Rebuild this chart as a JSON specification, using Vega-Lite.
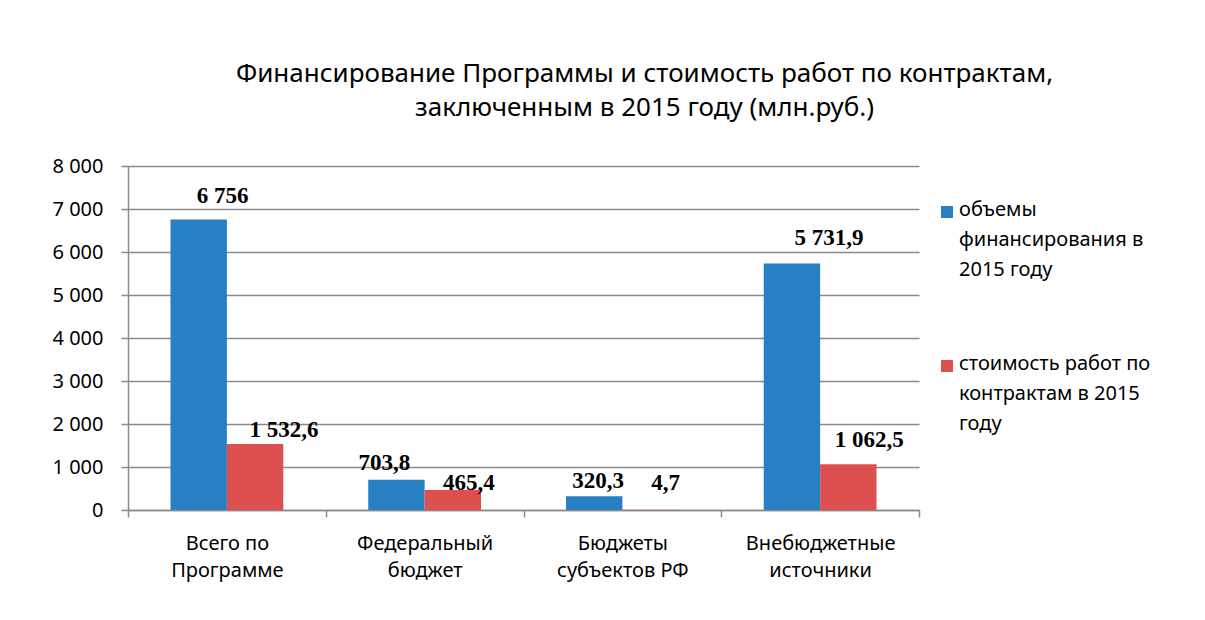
{
  "$schema": "https://vega.github.io/schema/vega-lite/v6.json",
  "width": 791,
  "height": 344,
  "autosize": {"type": "none"},
  "padding": {"left": 128, "top": 166, "right": 286, "bottom": 110},
  "background": "white",
  "title": {
    "text": ["Финансирование Программы и стоимость работ по контрактам,", "заключенным в 2015 году (млн.руб.)"],
    "font": "Noto Sans",
    "fontSize": 26,
    "fontWeight": "normal",
    "color": "#000000",
    "anchor": "middle",
    "frame": "group",
    "dx": 121,
    "lineHeight": 34,
    "offset": 35
  },
  "data": {
    "values": [
      {"cat": "Всего по Программе", "series": "объемы финансирования в 2015 году", "value": 6756, "label": "6 756"},
      {"cat": "Всего по Программе", "series": "стоимость работ по контрактам в 2015 году", "value": 1532.6, "label": "1 532,6"},
      {"cat": "Федеральный бюджет", "series": "объемы финансирования в 2015 году", "value": 703.8, "label": "703,8"},
      {"cat": "Федеральный бюджет", "series": "стоимость работ по контрактам в 2015 году", "value": 465.4, "label": "465,4"},
      {"cat": "Бюджеты субъектов РФ", "series": "объемы финансирования в 2015 году", "value": 320.3, "label": "320,3"},
      {"cat": "Бюджеты субъектов РФ", "series": "стоимость работ по контрактам в 2015 году", "value": 4.7, "label": "4,7"},
      {"cat": "Внебюджетные источники", "series": "объемы финансирования в 2015 году", "value": 5731.9, "label": "5 731,9"},
      {"cat": "Внебюджетные источники", "series": "стоимость работ по контрактам в 2015 году", "value": 1062.5, "label": "1 062,5"}
    ]
  },
  "encoding": {
    "x": {
      "field": "cat",
      "type": "nominal",
      "sort": null,
      "title": null,
      "scale": {"paddingInner": 0, "paddingOuter": 0},
      "axis": {
        "labelAngle": 0,
        "labelFont": "Noto Sans",
        "labelFontSize": 20,
        "labelColor": "#000000",
        "labelLineHeight": 27,
        "labelPadding": 16,
        "labelLimit": 0,
        "tickBand": "extent",
        "tickSize": 7,
        "tickColor": "#8a8a8a",
        "tickWidth": 1.5,
        "domainColor": "#8a8a8a",
        "domainWidth": 1.5,
        "grid": false,
        "labelExpr": "datum.value == 'Всего по Программе' ? ['Всего по', 'Программе'] : datum.value == 'Федеральный бюджет' ? ['Федеральный', 'бюджет'] : datum.value == 'Бюджеты субъектов РФ' ? ['Бюджеты', 'субъектов РФ'] : datum.value == 'Внебюджетные источники' ? ['Внебюджетные', 'источники'] : ''"
      }
    },
    "xOffset": {
      "field": "series",
      "type": "nominal",
      "sort": ["объемы финансирования в 2015 году", "стоимость работ по контрактам в 2015 году"],
      "scale": {"paddingInner": 0, "paddingOuter": 0.753}
    },
    "y": {
      "field": "value",
      "type": "quantitative",
      "title": null,
      "scale": {"domain": [0, 8000], "nice": false},
      "axis": {
        "values": [0, 1000, 2000, 3000, 4000, 5000, 6000, 7000, 8000],
        "labelExpr": "replace(format(datum.value, ','), ',', ' ')",
        "labelFont": "Noto Sans",
        "labelFontSize": 20,
        "labelColor": "#000000",
        "labelPadding": 18,
        "tickSize": 7,
        "tickColor": "#8a8a8a",
        "tickWidth": 1.5,
        "domainColor": "#8a8a8a",
        "domainWidth": 1.5,
        "grid": true,
        "gridColor": "#8a8a8a",
        "gridWidth": 1.5
      }
    }
  },
  "layer": [
    {
      "mark": {"type": "bar"},
      "encoding": {
        "color": {
          "field": "series",
          "type": "nominal",
          "scale": {
            "domain": ["объемы финансирования в 2015 году", "стоимость работ по контрактам в 2015 году"],
            "range": ["#2780C3", "#DE4F4F"]
          },
          "legend": {
            "title": null,
            "orient": "none",
            "legendX": 809,
            "legendY": 36,
            "symbolType": "square",
            "symbolSize": 144,
            "symbolStrokeWidth": 0,
            "symbolOpacity": 1,
            "labelFont": "Noto Sans",
            "labelFontSize": 20,
            "labelColor": "#000000",
            "labelLimit": 0,
            "labelOffset": 2,
            "labelBaseline": "top",
            "rowPadding": 74,
            "labelExpr": "datum.label == 'объемы финансирования в 2015 году' ? ['объемы', 'финансирования в', '2015 году'] : ['стоимость работ по', 'контрактам в 2015', 'году']",
            "encode": {
              "labels": {"update": {"lineHeight": {"value": 30}, "dy": {"value": -12}}}
            }
          }
        }
      }
    },
    {
      "transform": [{"filter": "datum.label == '6 756'"}],
      "mark": {"type": "text", "font": "Liberation Serif", "fontWeight": "bold", "fontSize": 23, "baseline": "alphabetic", "dx": 24, "dy": -16},
      "encoding": {"text": {"field": "label"}}
    },
    {
      "transform": [{"filter": "datum.label == '1 532,6'"}],
      "mark": {"type": "text", "font": "Liberation Serif", "fontWeight": "bold", "fontSize": 23, "baseline": "alphabetic", "dx": 29, "dy": -7},
      "encoding": {"text": {"field": "label"}}
    },
    {
      "transform": [{"filter": "datum.label == '703,8'"}],
      "mark": {"type": "text", "font": "Liberation Serif", "fontWeight": "bold", "fontSize": 23, "baseline": "alphabetic", "dx": -12, "dy": -10},
      "encoding": {"text": {"field": "label"}}
    },
    {
      "transform": [{"filter": "datum.label == '465,4'"}],
      "mark": {"type": "text", "font": "Liberation Serif", "fontWeight": "bold", "fontSize": 23, "baseline": "alphabetic", "dx": 16, "dy": 0},
      "encoding": {"text": {"field": "label"}}
    },
    {
      "transform": [{"filter": "datum.label == '320,3'"}],
      "mark": {"type": "text", "font": "Liberation Serif", "fontWeight": "bold", "fontSize": 23, "baseline": "alphabetic", "dx": 4, "dy": -8},
      "encoding": {"text": {"field": "label"}}
    },
    {
      "transform": [{"filter": "datum.label == '4,7'"}],
      "mark": {"type": "text", "font": "Liberation Serif", "fontWeight": "bold", "fontSize": 23, "baseline": "alphabetic", "dx": 15, "dy": -20},
      "encoding": {"text": {"field": "label"}}
    },
    {
      "transform": [{"filter": "datum.label == '5 731,9'"}],
      "mark": {"type": "text", "font": "Liberation Serif", "fontWeight": "bold", "fontSize": 23, "baseline": "alphabetic", "dx": 37, "dy": -19},
      "encoding": {"text": {"field": "label"}}
    },
    {
      "transform": [{"filter": "datum.label == '1 062,5'"}],
      "mark": {"type": "text", "font": "Liberation Serif", "fontWeight": "bold", "fontSize": 23, "baseline": "alphabetic", "dx": 21, "dy": -17},
      "encoding": {"text": {"field": "label"}}
    }
  ],
  "config": {
    "view": {"stroke": null}
  }
}
